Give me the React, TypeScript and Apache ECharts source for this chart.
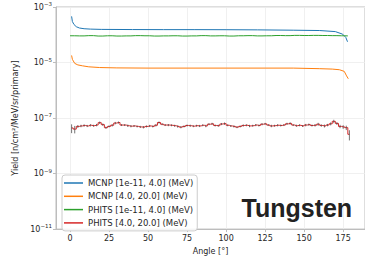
import React, { useEffect, useRef } from "react";
import * as echarts from "echarts";

const xTicks = [0, 25, 50, 75, 100, 125, 150, 175];

const mcnpLow: [number, number][] = [
  [1, 4.6e-4], [1.5, 3.0e-4], [2.5, 2.35e-4], [4, 1.95e-4], [6, 1.75e-4], [9, 1.65e-4],
  [13, 1.6e-4], [20, 1.56e-4], [40, 1.54e-4], [60, 1.53e-4], [80, 1.53e-4], [100, 1.52e-4],
  [120, 1.5e-4], [143, 1.46e-4], [160, 1.42e-4], [170, 1.3e-4], [174.7, 1.05e-4],
  [176.7, 8.0e-5], [177.8, 5.6e-5],
];

const mcnpHigh: [number, number][] = [
  [1, 1.8e-5], [1.5, 1.3e-5], [3, 9.3e-6], [5, 8.2e-6], [8, 7.6e-6], [12, 7.0e-6],
  [19, 6.6e-6], [30, 6.4e-6], [50, 6.3e-6], [75, 6.3e-6], [100, 6.3e-6], [125, 6.3e-6],
  [143, 6.3e-6], [160, 6.0e-6], [168, 5.8e-6], [172.6, 5.5e-6], [175.7, 4.8e-6],
  [177.2, 3.3e-6], [178.3, 2.6e-6],
];

const phitsLow: [number, number][] = [
  [0, 9.2e-5], [6, 9.1e-5], [12, 9.3e-5], [18, 9.0e-5], [24, 9.2e-5], [30, 9.0e-5],
  [36, 9.1e-5], [42, 9.3e-5], [48, 9.2e-5], [54, 9.0e-5], [60, 9.1e-5], [66, 9.2e-5],
  [72, 9.0e-5], [78, 9.1e-5], [84, 9.3e-5], [90, 9.1e-5], [96, 9.2e-5], [102, 9.0e-5],
  [108, 9.2e-5], [114, 9.3e-5], [120, 9.1e-5], [126, 9.2e-5], [132, 9.4e-5], [138, 9.3e-5],
  [144, 9.5e-5], [150, 9.4e-5], [156, 9.5e-5], [162, 9.4e-5], [168, 9.3e-5], [174, 9.2e-5],
  [178, 9.1e-5],
];

const phitsHighAngle = [
  1, 3, 5, 7, 9, 11, 13, 15, 17, 19, 21, 23, 25, 27, 29, 31, 33, 35, 37, 39,
  41, 43, 45, 47, 49, 51, 53, 55, 57, 59, 61, 63, 65, 67, 69, 71, 73, 75, 77, 79,
  81, 83, 85, 87, 89, 91, 93, 95, 97, 99, 101, 103, 105, 107, 109, 111, 113, 115, 117, 119,
  121, 123, 125, 127, 129, 131, 133, 135, 137, 139, 141, 143, 145, 147, 149, 151, 153, 155, 157, 159,
  161, 163, 165, 167, 169, 171, 173, 175, 177, 179,
];
const phitsHighYield = [
  4.4e-8, 4.0e-8, 5.0e-8, 5.2e-8, 5.4e-8, 5.2e-8, 5.5e-8, 5.3e-8, 5.6e-8, 6.8e-8,
  5.8e-8, 4.5e-8, 5.0e-8, 5.5e-8, 6.6e-8, 6.9e-8, 5.6e-8, 5.6e-8, 5.3e-8, 5.1e-8,
  5.2e-8, 5.0e-8, 4.8e-8, 4.7e-8, 5.0e-8, 5.2e-8, 5.0e-8, 5.5e-8, 6.9e-8, 6.0e-8,
  5.6e-8, 5.6e-8, 5.5e-8, 5.3e-8, 5.0e-8, 4.7e-8, 5.0e-8, 5.4e-8, 5.3e-8, 5.1e-8,
  5.3e-8, 5.2e-8, 5.5e-8, 5.2e-8, 6.0e-8, 6.2e-8, 5.4e-8, 5.3e-8, 6.1e-8, 6.3e-8,
  5.5e-8, 5.2e-8, 5.0e-8, 4.7e-8, 5.0e-8, 5.4e-8, 5.5e-8, 5.2e-8, 5.3e-8, 5.6e-8,
  5.4e-8, 6.0e-8, 6.2e-8, 5.6e-8, 5.2e-8, 5.3e-8, 5.5e-8, 5.4e-8, 5.6e-8, 6.2e-8,
  6.4e-8, 5.6e-8, 5.3e-8, 5.5e-8, 5.2e-8, 5.6e-8, 5.8e-8, 5.4e-8, 5.5e-8, 6.0e-8,
  5.4e-8, 5.2e-8, 5.6e-8, 6.2e-8, 7.6e-8, 6.4e-8, 5.0e-8, 4.8e-8, 4.5e-8, 2.6e-8,
];
const phitsHighRelErr = [
  0.35, 0.3, 0.12, 0.1, 0.1, 0.09, 0.1, 0.08, 0.1, 0.1,
  0.1, 0.09, 0.08, 0.1, 0.1, 0.09, 0.08, 0.08, 0.1, 0.09,
  0.08, 0.08, 0.09, 0.1, 0.08, 0.09, 0.08, 0.1, 0.09, 0.08,
  0.08, 0.09, 0.08, 0.08, 0.1, 0.09, 0.08, 0.08, 0.09, 0.08,
  0.08, 0.09, 0.08, 0.1, 0.08, 0.09, 0.08, 0.08, 0.09, 0.1,
  0.08, 0.08, 0.09, 0.08, 0.08, 0.09, 0.08, 0.1, 0.08, 0.09,
  0.08, 0.09, 0.08, 0.08, 0.1, 0.08, 0.09, 0.08, 0.08, 0.09,
  0.1, 0.08, 0.09, 0.08, 0.08, 0.1, 0.09, 0.08, 0.1, 0.12,
  0.1, 0.12, 0.1, 0.12, 0.14, 0.12, 0.14, 0.15, 0.18, 0.4,
];

const seriesNames = [
  "MCNP [1e-11, 4.0] (MeV)",
  "MCNP [4.0, 20.0] (MeV)",
  "PHITS [1e-11, 4.0] (MeV)",
  "PHITS [4.0, 20.0] (MeV)",
];
const colors = ["#1f77b4", "#ff7f0e", "#2ca02c", "#d62728"];

const FONT = "DejaVu Sans";

export default function App() {
  const ref = useRef<HTMLDivElement>(null);
  useEffect(() => {
    if (!ref.current) return;
    const chart = echarts.init(ref.current, undefined, { renderer: "svg" });
    const redData = phitsHighAngle.map((a, i) => [a, phitsHighYield[i]]);
    const errData = phitsHighAngle.map((a, i) => [
      a,
      phitsHighYield[i] * (1 - phitsHighRelErr[i]),
      phitsHighYield[i] * (1 + phitsHighRelErr[i]),
    ]);
    chart.setOption({
      animation: false,
      backgroundColor: "#ffffff",
      textStyle: { fontFamily: FONT },
      grid: {
        left: 56,
        top: 7,
        width: 317,
        height: 229,
        show: true,
        borderColor: "#bdbdbd",
        borderWidth: 1,
        backgroundColor: "transparent",
      },
      legend: {
        orient: "vertical",
        left: 62,
        top: 175,
        padding: [3, 4, 3, 2],
        backgroundColor: "rgba(255,255,255,0.85)",
        borderColor: "#cccccc",
        borderWidth: 1,
        borderRadius: 3,
        itemWidth: 19,
        itemHeight: 1.5,
        itemGap: 3.3,
        itemTextGap: 6,
        icon: "rect",
        textStyle: { fontFamily: FONT, fontSize: 8.5, color: "#262626", lineHeight: 10 },
        data: seriesNames.map((n, i) => ({ name: n, itemStyle: { color: colors[i] } })),
      },
      xAxis: {
        type: "value",
        min: -9,
        max: 189,
        name: "Angle [°]",
        nameLocation: "middle",
        nameGap: 17,
        nameTextStyle: { fontFamily: FONT, fontSize: 8, color: "#262626" },
        axisLine: { show: true, onZero: false, lineStyle: { color: "#bdbdbd", width: 1 } },
        axisTick: { show: true, length: 3, lineStyle: { color: "#bdbdbd" }, customValues: xTicks },
        axisLabel: { fontFamily: FONT, fontSize: 8, color: "#262626", margin: 5, customValues: xTicks },
        splitLine: { show: true, lineStyle: { color: "#ececec", width: 0.8 } },
      },
      yAxis: {
        type: "log",
        logBase: 10,
        min: 1e-11,
        max: 1e-3,
        interval: 2,
        name: "Yield [n/cm²/MeV/sr/primary]",
        nameLocation: "middle",
        nameGap: 33,
        nameTextStyle: { fontFamily: FONT, fontSize: 8, color: "#262626" },
        axisLine: { show: true, onZero: false, lineStyle: { color: "#bdbdbd", width: 1 } },
        axisTick: { show: true, length: 3, lineStyle: { color: "#bdbdbd" } },
        minorTick: { show: false },
        axisLabel: {
          margin: 4,
          formatter: (v: number) => {
            const e = Math.round(Math.log10(v));
            return "{b|10}{s|" + (e < 0 ? "\u2212" + -e : String(e)) + "}";
          },
          rich: {
            b: { fontFamily: FONT, fontSize: 8, color: "#262626", lineHeight: 12 },
            s: { fontFamily: FONT, fontSize: 5.5, color: "#262626", lineHeight: 6, verticalAlign: "top" },
          },
        },
        splitLine: { show: true, lineStyle: { color: "#ececec", width: 0.8 } },
      },
      graphic: [
        {
          type: "text",
          left: 241.5,
          top: 195,
          style: {
            text: "Tungsten",
            fontFamily: "Liberation Sans",
            fontWeight: "bold",
            fontSize: 25,
            fill: "#222222",
          },
          z: 100,
        },
      ],
      series: [
        {
          name: seriesNames[0],
          type: "line",
          data: mcnpLow,
          showSymbol: false,
          lineStyle: { color: colors[0], width: 1 },
          itemStyle: { color: colors[0] },
          z: 3,
        },
        {
          name: seriesNames[1],
          type: "line",
          data: mcnpHigh,
          showSymbol: false,
          lineStyle: { color: colors[1], width: 1 },
          itemStyle: { color: colors[1] },
          z: 3,
        },
        {
          name: seriesNames[2],
          type: "line",
          data: phitsLow,
          showSymbol: false,
          step: "middle",
          lineStyle: { color: colors[2], width: 1 },
          itemStyle: { color: colors[2] },
          z: 3,
        },
        {
          name: seriesNames[3],
          type: "line",
          data: redData,
          showSymbol: false,
          step: "middle",
          lineStyle: { color: colors[3], width: 1 },
          itemStyle: { color: colors[3] },
          z: 3,
        },
        {
          name: "err",
          type: "custom",
          data: errData,
          encode: { x: 0, y: [1, 2] },
          z: 4,
          renderItem: (params: any, api: any) => {
            const x = api.value(0);
            const p1 = api.coord([x, api.value(1)]);
            const p2 = api.coord([x, api.value(2)]);
            return {
              type: "line",
              shape: { x1: p1[0], y1: p1[1], x2: p2[0], y2: p2[1] },
              style: { stroke: "#3a3a3a", lineWidth: 0.7 },
            };
          },
        },
      ],
    });
    return () => chart.dispose();
  }, []);
  return (
    <div
      ref={ref}
      style={{ position: "fixed", left: 0, top: 0, width: 365, height: 260, background: "#fff" }}
    />
  );
}
